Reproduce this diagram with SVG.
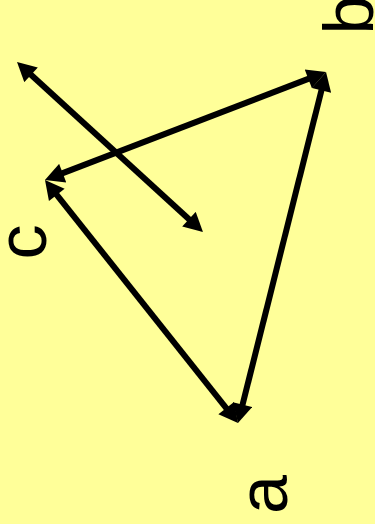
<svg xmlns="http://www.w3.org/2000/svg" width="375" height="524" viewBox="0 0 375 524">
<style>
.lbl{font-family:"Liberation Sans",Arial,sans-serif;font-size:70px;fill:#000;text-anchor:middle}
.edge{stroke:#000;stroke-width:6;fill:none}
</style>
<defs>
<marker id="ah" viewBox="0 0 20 20" refX="10" refY="10" markerWidth="20" markerHeight="20" markerUnits="userSpaceOnUse" orient="auto-start-reverse">
<path d="M1,0 L20,10 L1,20 z" fill="#000"/>
</marker>
</defs>
<rect width="375" height="524" fill="#ffff99"/>
<g id="connectors">
<line class="edge" x1="231.8" y1="415.2" x2="51.2" y2="187.8" marker-start="url(#ah)" marker-end="url(#ah)"/>
<line class="edge" x1="240.4" y1="413.3" x2="323.6" y2="81.7" marker-start="url(#ah)" marker-end="url(#ah)"/>
<line class="edge" x1="54.3" y1="176.4" x2="316.7" y2="75.6" marker-start="url(#ah)" marker-end="url(#ah)"/>
<line class="edge" x1="24.4" y1="68.7" x2="195.6" y2="225.3" marker-start="url(#ah)" marker-end="url(#ah)"/>
</g>
<g id="node-a"><text class="lbl" transform="translate(287,494.5) rotate(-90)">a</text></g>
<g id="node-b"><text class="lbl" transform="translate(373,15) rotate(-90)">b</text></g>
<g id="node-c"><text class="lbl" transform="translate(46,242) rotate(-90)">c</text></g>
</svg>
